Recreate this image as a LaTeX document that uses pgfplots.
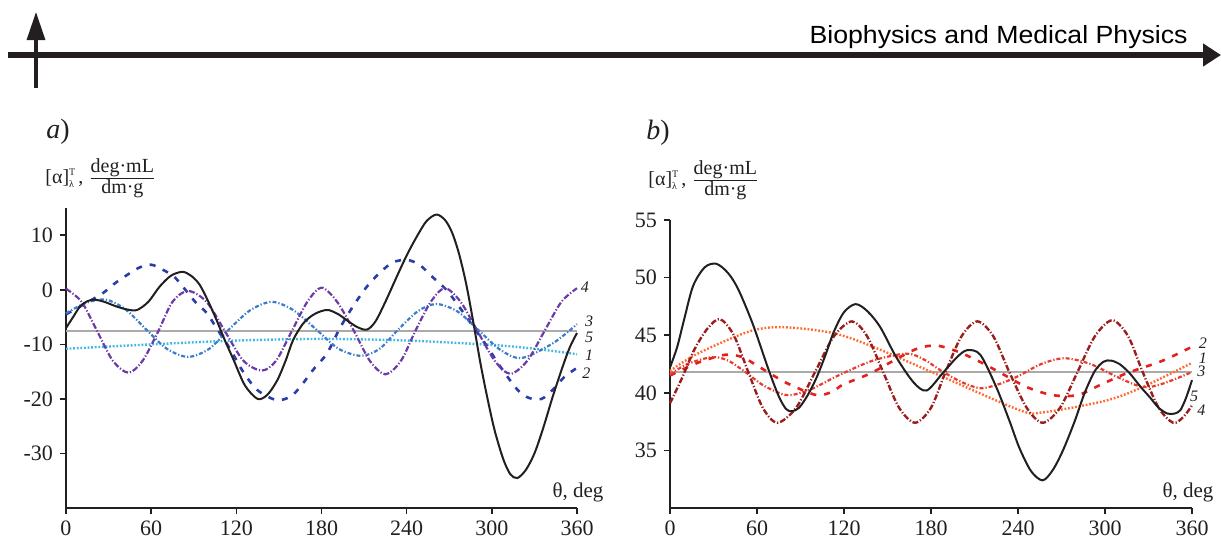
\documentclass[border=0pt]{standalone}
\usepackage{pgfplots}
\pgfplotsset{compat=1.18}
\usepackage{fontspec}
\setmainfont{Liberation Serif}
\newfontfamily\headfont{Liberation Sans}
\usetikzlibrary{arrows.meta}

\definecolor{ink}{HTML}{231F20}
\definecolor{refgray}{HTML}{AAAAAA}
\definecolor{acyan}{HTML}{3DB9E3}
\definecolor{adblue}{HTML}{2B3DA6}
\definecolor{amblue}{HTML}{3B7DCB}
\definecolor{apurple}{HTML}{6B3BA8}
\definecolor{borange}{HTML}{FF6A2E}
\definecolor{bred}{HTML}{E3201E}
\definecolor{bred3}{HTML}{EC3A2A}
\definecolor{bmaroon}{HTML}{9A1E1E}

\tikzset{lab/.style={font=\fontsize{8}{9}\selectfont\itshape, text=ink, anchor=west, inner sep=0.3pt}}
\pgfplotsset{
  panel/.style={
    scale only axis, anchor=south west, clip=false,
    axis lines*=left,
    axis line style={line width=1pt, ink},
    tick align=outside, major tick length=3pt,
    tick style={line width=0.8pt, ink},
    xmin=0, xmax=360, xtick={0,60,...,360},
    tick label style={font=\fontsize{11}{13}\selectfont, text=ink},
    /pgf/number format/assume math mode=true,
  },
  c5/.style={ink, line width=1pt, smooth},
  cgray/.style={refgray, line width=1.2pt},
}

\begin{document}
\begin{tikzpicture}
\useasboundingbox (0,0) rectangle (610.5pt,269pt);

% header
\draw[ink, line width=2.75pt, -{Triangle[length=9pt,width=11pt]}] (4pt,241.5pt) -- (610.5pt,241.5pt);
\draw[ink, line width=1.6pt, -{Triangle[length=14pt,width=9pt]}] (18pt,225pt) -- (18pt,263pt);
\node[anchor=base east, inner sep=0] at (594pt,247.5pt) {\resizebox{189pt}{9pt}{\headfont Biophysics and Medical Physics}};

% panel a
\begin{axis}[panel, at={(33pt,15pt)}, width=255.5pt, height=150pt,
  ymin=-40, ymax=15, ytick={-30,-20,-10,0,10}]
\addplot[cgray] coordinates {(0,-7.5) (360,-7.5)};
\addplot[acyan, line width=1.2pt, dash pattern=on 0.9pt off 0.9pt, smooth] coordinates {
(0,-10.8) (60,-10.0) (120,-9.3) (180,-9.0) (240,-9.3) (300,-10.1) (330,-10.8) (360,-11.8)};
\addplot[adblue, line width=1.3pt, dash pattern=on 3pt off 4pt, smooth] coordinates {
(0,-4.5) (13,-2.6) (26,-0.6) (35,1.3) (51,4.0) (60,4.6) (68,3.7) (77,2.2) (91,-2.2) (99,-4.2)
(106,-7) (116,-11) (124,-14.7) (134.5,-18.3) (148,-20.2) (158,-19.6) (165,-17.8) (174,-14.7)
(184,-11.6) (193,-7) (202,-3.1) (212,0.6) (221,3.1) (230,5) (240,5.5) (249,4.6) (258,2.4)
(268,0) (277,-3.1) (287,-6.8) (297,-10.5) (306,-14.1) (318,-18.3) (326,-19.8) (335,-20)
(343,-18.3) (351,-16) (360,-14.3)};
\addplot[amblue, line width=1.1pt, dash pattern=on 2pt off 1pt on 0.6pt off 1pt, smooth] coordinates {
(0,-4.3) (14,-2.4) (28,-1.8) (42,-3.6) (57,-7.4) (71,-10.8) (86,-12.3) (101,-10.8) (115,-7.2)
(130,-3.7) (145,-2.2) (160,-3.7) (176,-7.2) (192,-10.8) (208,-12.1) (221,-10.8) (234,-7.3)
(248,-3.9) (261,-2.6) (276,-4.0) (291,-7.5) (306,-11.0) (321,-12.5) (343,-9.8) (360,-6.3)};
\addplot[apurple, line width=1.1pt, dash pattern=on 3pt off 1pt on 0.6pt off 1pt, smooth] coordinates {
(0,0.2) (11,-2.2) (22,-7.6) (33,-13.0) (44,-15.2) (54,-13.0) (65,-7.6) (75,-2.2) (86,-0.2)
(99,-2.2) (112,-7.6) (125,-13.0) (138,-14.8) (148,-13.0) (159,-7.6) (170,-2.2) (180,0.4)
(191,-2.2) (203,-7.6) (214,-13.0) (225,-15.5) (236,-13.0) (246,-7.6) (257,-2.2) (267,0.3)
(278,-2.2) (290,-7.6) (302,-13.0) (313,-15.4) (325,-13.0) (337,-7.6) (349,-2.2) (360,0.3)};
\addplot[c5] coordinates {
(0,-7.0) (5,-5.0) (10,-3.0) (15,-2.1) (20,-1.8) (27,-2.2) (35,-3.0) (43,-3.6) (50,-3.7)
(58,-2.2) (66,0.6) (74,2.6) (82,3.3) (88,2.6) (94,1.0) (100,-2.0) (106,-5.5) (112,-9.3)
(118,-12.8) (126,-17.5) (135,-20) (142,-19.2) (149,-16.5) (155,-12.8) (160,-9.2) (167,-6.2)
(174,-4.6) (180,-3.9) (185,-3.7) (192,-4.5) (198,-5.6) (205,-6.8) (212,-7.3) (218,-5.8)
(225,-2.2) (233,2.4) (240,6.3) (247,9.7) (254,12.6) (261,13.8) (267,12.8) (272,10.5)
(277,6.5) (282,1.0) (287,-6) (292,-13.5) (297,-20) (302,-25.8) (308,-31) (313,-33.8)
(318,-34.5) (324,-33) (330,-30) (336,-25.5) (343,-19.5) (350,-14) (355,-10.5) (360,-7.9)};
\node[lab] at (axis cs:362,0.5) {4};
\node[lab] at (axis cs:365,-5.7) {3};
\node[lab] at (axis cs:365,-8.7) {5};
\node[lab] at (axis cs:365,-12) {1};
\node[lab] at (axis cs:363,-15.2) {2};
\end{axis}

% panel b
\begin{axis}[panel, at={(335pt,15pt)}, width=261pt, height=144pt,
  ymin=30, ymax=55, ytick={35,40,45,50,55}]
\addplot[cgray] coordinates {(0,41.8) (360,41.8)};
\addplot[borange, line width=1.2pt, dash pattern=on 0.9pt off 0.9pt, smooth] coordinates {
(0,41.9) (19,43.4) (54,45.3) (77,45.7) (112,45.2) (140,44.0) (186,41.5) (241,38.5) (257,38.3)
(300,39.3) (326,40.5) (360,42.6)};
\addplot[bred, line width=1.3pt, dash pattern=on 3pt off 4pt, smooth] coordinates {
(0,41.5) (19,42.6) (38,43.3) (50,43.1) (57,42.6) (74,41.3) (83,40.7) (101,39.8) (112,40.1)
(119,40.7) (131,41.3) (140,41.8) (160,43.2) (172,43.9) (184,44.1) (198,43.6) (212,42.8)
(227,41.8) (246,40.5) (264,39.8) (281,39.8) (297,40.7) (315,41.7) (340,42.8) (360,44.0)};
\addplot[bred3, line width=1.1pt, dash pattern=on 2pt off 1pt on 0.6pt off 1pt, smooth] coordinates {
(0,41.6) (12,42.5) (29,43.1) (40,42.8) (52,41.8) (65,40.6) (81,39.8) (97,40.3) (116,41.5)
(140,42.8) (163,43.4) (175,42.9) (186,42.0) (200,41.0) (214,40.4) (228,40.8) (241,41.5)
(256,42.5) (272,43.0) (290,42.5) (308,41.4) (326,40.5) (340,40.8) (360,41.8)};
\addplot[bmaroon, line width=1.2pt, dash pattern=on 3pt off 1pt on 0.6pt off 1pt, smooth] coordinates {
(0,39.1) (8,41.2) (17,43.8) (26,45.6) (34.5,46.4) (44,45.0) (54,41.8) (64,38.7) (74,37.4)
(87,38.7) (100,41.8) (113,44.9) (125.5,46.2) (136,44.9) (147,41.8) (158,38.7) (169,37.4)
(180,38.7) (190,41.8) (201,44.9) (212,46.2) (223,44.9) (234,41.8) (246,38.7) (257,37.4)
(269,38.7) (281,41.8) (293,44.9) (305,46.3) (316,44.9) (326,41.8) (337,38.7) (347,37.4)
(354,37.9) (360,38.9)};
\addplot[c5] coordinates {
(0,42.2) (5,44.0) (10,46.5) (16,49.3) (24,50.9) (32,51.2) (40,50.4) (47,49.0) (57,46) (68,42)
(75,39.7) (80,38.6) (84,38.4) (89,38.7) (95,39.8) (101,41.3) (107,43.2) (113,45.3) (120,47.0)
(128,47.7) (136,47.1) (145,45.7) (156,43.1) (168,40.9) (177,40.2) (188,41.7) (198,43.1)
(205,43.7) (214,43.3) (225,40.5) (234,37.6) (241,35.2) (249,33.2) (257,32.4) (264,33.3)
(271,35.0) (279,37.5) (286,40.0) (293,41.9) (299,42.7) (304,42.8) (310,42.5) (317,41.7)
(324,40.6) (331,39.6) (337,38.7) (343,38.2) (348,38.2) (352,38.5) (356,39.6) (360,41.1)};
\node[lab] at (axis cs:364,44.3) {2};
\node[lab] at (axis cs:364,43.0) {1};
\node[lab] at (axis cs:363,41.9) {3};
\node[lab] at (axis cs:358,39.7) {5};
\node[lab] at (axis cs:363,38.5) {4};
\end{axis}

% panel letters and axis titles
\node[font=\fontsize{14}{16}\selectfont, text=ink] at (29pt,203pt) {\textit{a})};
\node[font=\fontsize{14}{16}\selectfont, text=ink] at (329pt,202.5pt) {\textit{b})};
\node[anchor=base west, inner sep=0, font=\fontsize{10}{12}\selectfont, text=ink] at (22.5pt,177.5pt)
  {[α]$^{\mbox{\tiny T}}_{\mbox{\tiny λ}}$\kern1pt, $\frac{\mbox{deg·mL}}{\mbox{dm·g}}$};
\node[anchor=base west, inner sep=0, font=\fontsize{10}{12}\selectfont, text=ink] at (324pt,176.5pt)
  {[α]$^{\mbox{\tiny T}}_{\mbox{\tiny λ}}$\kern1pt, $\frac{\mbox{deg·mL}}{\mbox{dm·g}}$};
\node[anchor=base, inner sep=0, font=\fontsize{10.5}{12}\selectfont, text=ink] at (289pt,20.5pt) {θ, deg};
\node[anchor=base, inner sep=0, font=\fontsize{10.5}{12}\selectfont, text=ink] at (594pt,20.5pt) {θ, deg};
\end{tikzpicture}
\end{document}
